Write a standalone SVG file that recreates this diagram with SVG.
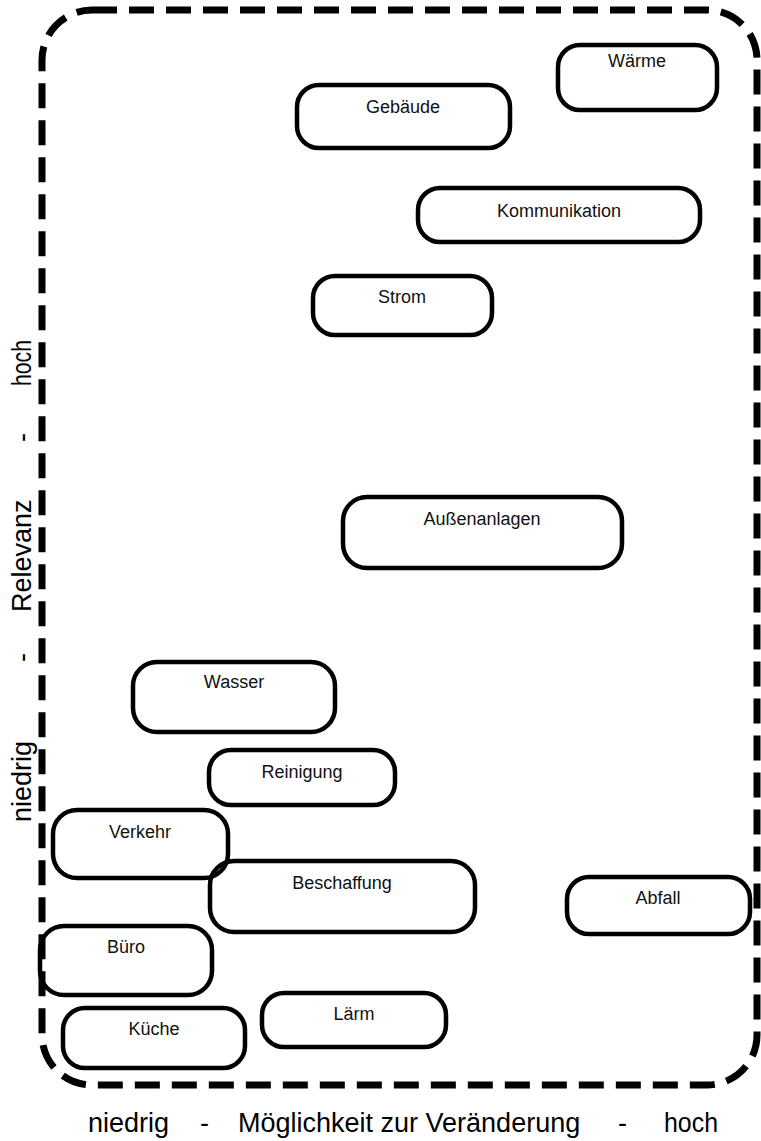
<svg xmlns="http://www.w3.org/2000/svg" width="761" height="1141" viewBox="0 0 761 1141">
<style>
.frame{fill:none;stroke:#000;stroke-width:7;stroke-dasharray:25 12}
.box{fill:none;stroke:#000;stroke-width:4.5}
.lbl{font-family:"Liberation Sans",Arial,sans-serif;font-size:18px;fill:#111;text-anchor:middle}
.axis{font-family:"Liberation Sans",Arial,sans-serif;font-size:27px;fill:#000}
</style>
<rect width="761" height="1141" fill="#fff"/>
<g id="frame"><rect class="frame" x="42" y="10" width="715" height="1075" rx="50" ry="50"/></g>
<g id="connectors"></g>
<g id="n-waerme"><rect class="box" x="558" y="45" width="159" height="65" rx="22"/><text class="lbl" x="637" y="67">Wärme</text></g>
<g id="n-gebaeude"><rect class="box" x="297" y="85" width="213" height="63" rx="22"/><text class="lbl" x="403" y="113">Gebäude</text></g>
<g id="n-kommunikation"><rect class="box" x="418" y="188" width="282" height="54" rx="22"/><text class="lbl" x="559" y="217">Kommunikation</text></g>
<g id="n-strom"><rect class="box" x="313" y="276" width="179" height="59" rx="22"/><text class="lbl" x="402" y="303">Strom</text></g>
<g id="n-aussenanlagen"><rect class="box" x="343" y="497" width="279" height="71" rx="24"/><text class="lbl" x="482" y="525">Außenanlagen</text></g>
<g id="n-wasser"><rect class="box" x="133" y="662" width="202" height="70" rx="24"/><text class="lbl" x="234" y="688">Wasser</text></g>
<g id="n-reinigung"><rect class="box" x="209" y="750" width="186" height="55" rx="22"/><text class="lbl" x="302" y="778">Reinigung</text></g>
<g id="n-verkehr"><rect class="box" x="53" y="810" width="175" height="68" rx="24"/><text class="lbl" x="140" y="838">Verkehr</text></g>
<g id="n-beschaffung"><rect class="box" x="210" y="861" width="265" height="71" rx="24"/><text class="lbl" x="342" y="889">Beschaffung</text></g>
<g id="n-abfall"><rect class="box" x="567" y="877" width="183" height="57" rx="22"/><text class="lbl" x="658" y="904">Abfall</text></g>
<g id="n-buero"><rect class="box" x="40" y="926" width="172" height="69" rx="24"/><text class="lbl" x="126" y="953">Büro</text></g>
<g id="n-laerm"><rect class="box" x="262" y="993" width="184" height="54" rx="22"/><text class="lbl" x="354" y="1020">Lärm</text></g>
<g id="n-kueche"><rect class="box" x="63" y="1008" width="182" height="60" rx="22"/><text class="lbl" x="154" y="1035">Küche</text></g>
<g id="y-axis" class="axis">
<text transform="translate(31,822) rotate(-90)">niedrig</text>
<text transform="translate(31,662) rotate(-90)">-</text>
<text transform="translate(31,612) rotate(-90)">Relevanz</text>
<text transform="translate(31,442) rotate(-90)">-</text>
<text transform="translate(31,386) rotate(-90)" textLength="46" lengthAdjust="spacingAndGlyphs">hoch</text>
</g>
<g id="x-axis" class="axis">
<text x="88" y="1132">niedrig</text>
<text x="200" y="1132">-</text>
<text x="238" y="1132">Möglichkeit zur Veränderung</text>
<text x="618" y="1132">-</text>
<text x="664" y="1132" textLength="54" lengthAdjust="spacingAndGlyphs">hoch</text>
</g>
</svg>
